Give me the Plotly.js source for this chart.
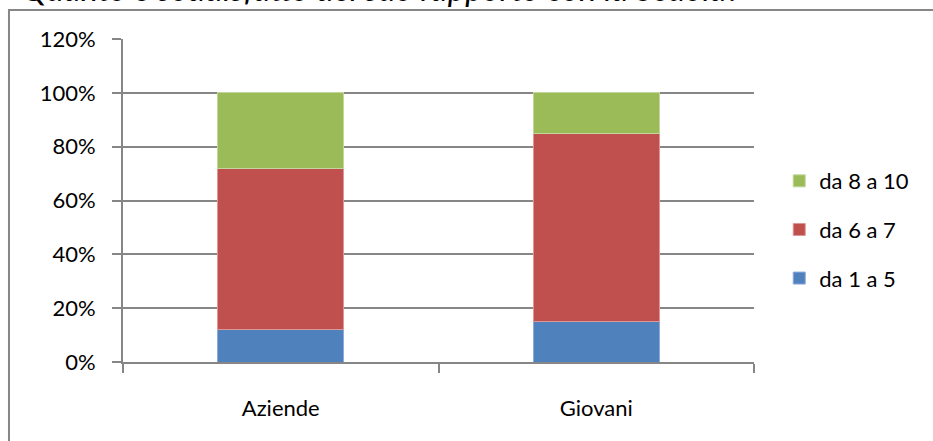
<!DOCTYPE html>
<html>
<head>
<meta charset="utf-8">
<script src="https://cdn.plot.ly/plotly-3.0.1.min.js"></script>
<style>html,body{margin:0;padding:0;background:#fff;}#chart{width:933px;height:441px;}</style>
</head>
<body>
<div id="chart"></div>
<script>
const categories = ["Aziende", "Giovani"];
const da1a5 = [0.12, 0.15];
const da6a7 = [0.60, 0.70];
const da8a10 = [0.28, 0.15];
const seriesNames = ["da 1 a 5", "da 6 a 7", "da 8 a 10"];
const yTickVals = [0, 0.2, 0.4, 0.6, 0.8, 1.0, 1.2];
const yTickText = ["0%", "20%", "40%", "60%", "80%", "100%", "120%"];
const titleText = "Quanto è soddisfatto del suo rapporto con la Scuola?";

const colors = ["#4F81BD", "#C0504D", "#9BBB59"];
const lineColors = ["#8EAADB", "#DC9896", "#C3D69B"];
const seriesValues = [da1a5, da6a7, da8a10];

const traces = seriesValues.map((vals, i) => ({
  type: "bar",
  name: seriesNames[i],
  x: categories,
  y: vals,
  legendgroup: "g" + i,
  legendrank: 10 - i,
  marker: {color: colors[i], line: {color: lineColors[i], width: 1}},
  hoverinfo: "none"
}));

const font = {family: "Lato, 'Noto Sans', sans-serif", size: 22, color: "#000"};

const layout = {
  width: 933,
  height: 441,
  margin: {l: 123, r: 179, t: 39, b: 79},
  paper_bgcolor: "#fff",
  plot_bgcolor: "#fff",
  barmode: "stack",
  bargap: 0.6,
  font: font,
  showlegend: true,
  legend: {
    x: 1.040, xanchor: "left",
    y: 0.41, yanchor: "middle",
    traceorder: "grouped",
    tracegroupgap: 17,
    font: font,
    bgcolor: "rgba(0,0,0,0)"
  },
  xaxis: {
    type: "category",
    showgrid: false,
    showline: true,
    linecolor: "#868686",
    linewidth: 2,
    ticks: "outside",
    tickson: "boundaries",
    ticklen: 9,
    tickcolor: "#868686",
    tickwidth: 2,
    ticklabelstandoff: 26,
    tickfont: font,
    zeroline: false
  },
  yaxis: {
    range: [0, 1.2],
    tickvals: yTickVals,
    ticktext: yTickText,
    showgrid: true,
    gridcolor: "#868686",
    gridwidth: 2,
    showline: true,
    linecolor: "#868686",
    linewidth: 2,
    ticks: "outside",
    ticklen: 9,
    tickcolor: "#868686",
    tickwidth: 2,
    ticklabelstandoff: 12,
    tickfont: font,
    zeroline: false
  },
  shapes: [{
    type: "rect", xref: "paper", yref: "paper",
    x0: -0.1807, x1: 1.6, y0: -0.6, y1: 1.0898,
    line: {color: "#868686", width: 2},
    fillcolor: "rgba(0,0,0,0)",
    layer: "below"
  }],
  annotations: [{
    text: titleText,
    xref: "paper", yref: "paper",
    x: -0.163, xanchor: "left",
    y: 1.089, yanchor: "bottom",
    showarrow: false,
    font: {family: "Lato, 'Noto Sans', sans-serif", size: 33, color: "#000", style: "italic"}
  }]
};

Plotly.newPlot("chart", traces, layout, {staticPlot: true, displayModeBar: false});
</script>
</body>
</html>
